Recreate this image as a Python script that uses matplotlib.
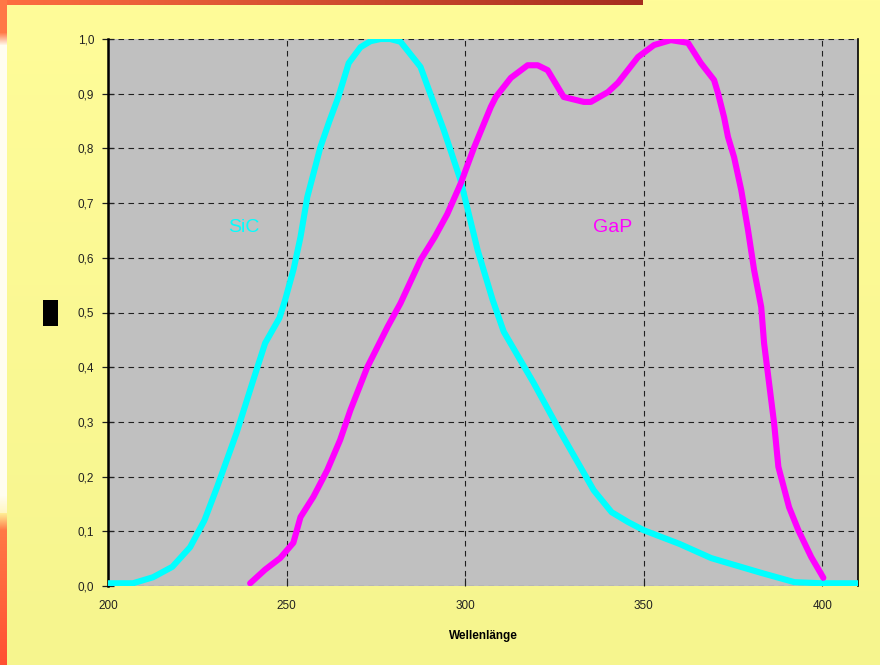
import numpy as np
import matplotlib
matplotlib.use("Agg")
import matplotlib.pyplot as plt
from matplotlib.patches import Rectangle

# ---- data ----
sic_x = [200, 207, 212.6, 218, 223, 227, 230.5, 236, 240.7, 244, 248, 249.6, 252, 253.9,
         255.8, 259.5, 262, 264.5, 267.4, 270.7, 273.5, 276.3, 279, 281.9, 287.5, 291.2, 294, 298.7,
         303.5, 307.7, 310.8, 319.2, 326.8, 336, 341, 345.6, 350, 360, 368.9, 382.9,
         392.2, 399.7, 410]
sic_y = [0.005, 0.005, 0.016, 0.035, 0.071, 0.12, 0.18, 0.28, 0.377, 0.444, 0.49, 0.523,
         0.58, 0.638, 0.711, 0.803, 0.85, 0.894, 0.956, 0.985, 0.996, 1.0, 1.0, 0.995, 0.949, 0.883,
         0.834, 0.742, 0.614, 0.523, 0.465, 0.371, 0.28, 0.175, 0.135, 0.117, 0.102,
         0.077, 0.051, 0.024, 0.007, 0.005, 0.005]

gap_x = [239.8, 244, 248.2, 251.9, 253.9, 257.5, 261.4, 265, 267.9, 272.6, 278.3, 281.9,
         287.5, 291.5, 295, 298.7, 302.4, 307.2, 308.6, 312.8, 317.5, 320.3, 323.1, 327.6, 333.2,
         335.2, 340, 342.8, 348.4, 352.9, 357.6, 362.4, 366, 369.7, 370.8, 372.5, 373.6,
         375.3, 377.3, 379.2, 380.9, 382.9, 383.7, 385.1, 386.5, 387.7, 390.7, 393.3,
         396.9, 400.3]
gap_y = [0.005, 0.03, 0.051, 0.079, 0.126, 0.163, 0.212, 0.267, 0.322, 0.4, 0.474, 0.517,
         0.596, 0.638, 0.68, 0.735, 0.8, 0.876, 0.894, 0.929, 0.952, 0.952, 0.943, 0.894, 0.885,
         0.885, 0.903, 0.92, 0.967, 0.989, 0.998, 0.993, 0.956, 0.925, 0.901, 0.857, 0.821,
         0.784, 0.724, 0.651, 0.578, 0.51, 0.444, 0.371, 0.298, 0.218, 0.144, 0.102,
         0.053, 0.015]

x_ticks = [200, 250, 300, 350, 400]
x_tick_labels = ["200", "250", "300", "350", "400"]
y_ticks = [0.0, 0.1, 0.2, 0.3, 0.4, 0.5, 0.6, 0.7, 0.8, 0.9, 1.0]
y_tick_labels = ["0,0", "0,1", "0,2", "0,3", "0,4", "0,5", "0,6", "0,7", "0,8", "0,9", "1,0"]
series_labels = ["SiC", "GaP"]
label_pos = [(237.9, 0.656), (341.4, 0.656)]
x_label = "Wellenlänge"

plt.rcParams['font.family'] = ['Liberation Sans', 'DejaVu Sans']

W, H = 880, 665
fig = plt.figure(figsize=(W / 100, H / 100), dpi=100)

# ---- background decoration ----
bg = np.zeros((H, W, 3))
top_col = np.array([255, 252, 153]) / 255
bot_col = np.array([246, 245, 142]) / 255
t = np.linspace(0, 1, H)[:, None]
bg[:] = (top_col * (1 - t) + bot_col * t)[:, None, :]
xs = np.linspace(0, 1, 642)[:, None]
c1 = np.array([255, 110, 65]) / 255
c2 = np.array([165, 45, 30]) / 255
bg[0:5, 0:642, :] = (c1 * (1 - xs) + c2 * xs)[None, :, :]
ys = np.arange(H)
left = np.zeros((H, 3))
orange = np.array([255, 120, 70]) / 255
white = np.array([255, 253, 240]) / 255
red = np.array([255, 80, 50]) / 255
glow = np.array([255, 240, 150]) / 255
for i in ys:
    if i < 32:
        left[i] = orange
    elif i < 45:
        f = (i - 32) / 13
        left[i] = orange * (1 - f) + white * f
    elif i < 495:
        left[i] = white
    elif i < 530:
        f = (i - 495) / 35
        left[i] = white * (1 - f) + glow * f if f < 0.5 else glow * (1 - (f - 0.5) * 2) + orange * ((f - 0.5) * 2)
    else:
        f = (i - 530) / (H - 530)
        left[i] = orange * (1 - f) + red * f
bg[:, 0:7, :] = left[:, None, :]

bax = fig.add_axes([0, 0, 1, 1], zorder=-10)
bax.imshow(bg, extent=[0, 1, 0, 1], aspect='auto', interpolation='nearest')
bax.axis('off')

# ---- main axes ----
ax = fig.add_axes([108 / W, 1 - 586 / H, (858 - 108) / W, (586 - 39) / H])
ax.set_facecolor('#C0C0C0')
ax.set_xlim(200, 410)
ax.set_ylim(0, 1.0)

ax.plot(sic_x, sic_y, color='#00FFFF', lw=4.4, solid_capstyle='butt', solid_joinstyle='round', zorder=3)
ax.plot(gap_x, gap_y, color='#FF00FF', lw=4.4, solid_capstyle='round', solid_joinstyle='round', zorder=4)

ax.text(*label_pos[0], series_labels[0], color='#00FFFF', fontsize=14, ha='center', va='center')
ax.text(*label_pos[1], series_labels[1], color='#FF00FF', fontsize=14, ha='center', va='center')

ax.set_xticks(x_ticks)
ax.set_xticklabels(x_tick_labels)
ax.set_yticks(y_ticks)
ax.set_yticklabels(y_tick_labels)

ax.grid(True, color='#202020', linestyle=(0, (5, 4)), linewidth=0.8)
ax.set_axisbelow(True)

for s in ['top', 'bottom']:
    ax.spines[s].set_visible(False)
ax.spines['left'].set_linewidth(1.8)
ax.spines['left'].set_color('black')
ax.spines['right'].set_linewidth(1.2)
ax.spines['right'].set_color('black')

ax.tick_params(axis='x', direction='in', length=6, width=0.8, color='#202020',
               labelsize=8.5, labelcolor='#222222', pad=10)
ax.tick_params(axis='y', direction='inout', length=8, width=0.9, color='#202020',
               labelsize=8.5, labelcolor='#222222', pad=6)

ax.set_xlabel(x_label, fontsize=8.5, fontweight='bold', labelpad=13, color='black')

fig.add_artist(Rectangle((43 / W, 1 - 326 / H), 15 / W, 26 / H, transform=fig.transFigure,
                         facecolor='black', edgecolor='none'))

fig.savefig('out.png', dpi=100)
